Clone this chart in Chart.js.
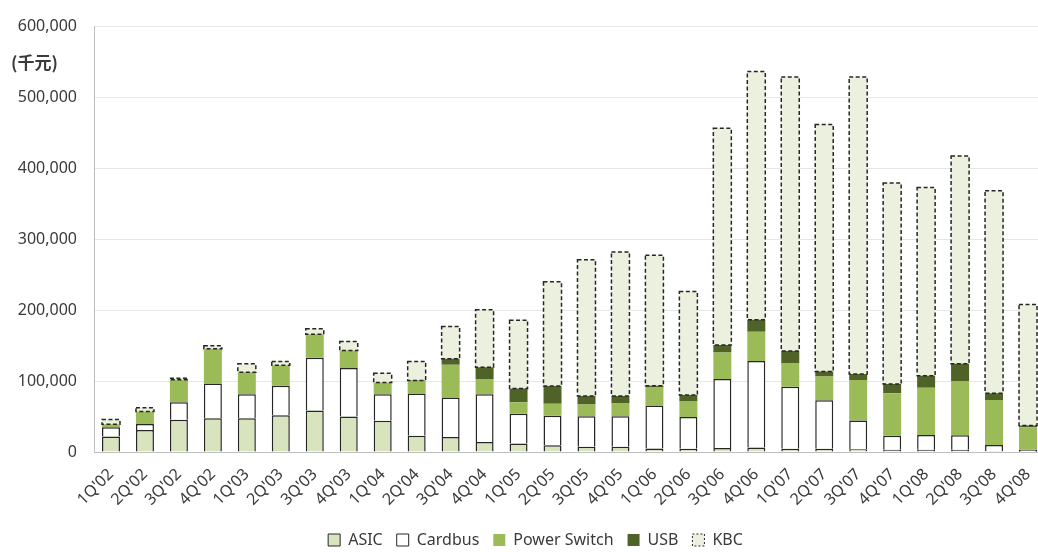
<!DOCTYPE html>
<html>
<head>
<meta charset="utf-8">
<script src="https://cdn.jsdelivr.net/npm/chart.js@4/dist/chart.umd.min.js"></script>
<style>
  html, body { margin: 0; padding: 0; background: #ffffff; overflow: hidden; }
  /* the plot runs slightly past the right edge of the visible frame */
  #wrap { width: 1038px; height: 552px; overflow: hidden; }
</style>
</head>
<body>
<div id="wrap"><canvas id="c" width="1045" height="552"></canvas></div>
<script>
// Quarterly revenue by product line (千元)
const quarters = ["1Q'02","2Q'02","3Q'02","4Q'02","1Q'03","2Q'03","3Q'03","4Q'03",
                  "1Q'04","2Q'04","3Q'04","4Q'04","1Q'05","2Q'05","3Q'05","4Q'05",
                  "1Q'06","2Q'06","3Q'06","4Q'06","1Q'07","2Q'07","3Q'07","4Q'07",
                  "1Q'08","2Q'08","3Q'08","4Q'08"];
const asic        = [22000,31000,45500,47500,47500,52000,58500,50000,44000,23000,21000,14000,12000,9500,7500,7500,5000,4500,5500,6500,4500,4500,4000,3000,3000,3000,1000,500];
const cardbus     = [13000,8500,24500,49000,34000,41500,74500,68500,37500,59500,56000,67500,42000,41500,43000,43000,60500,45000,97500,122000,87500,68500,40500,20000,21000,20500,9000,2500];
const powerSwitch = [4000,17500,32000,49000,31000,29000,33000,24500,16500,17500,46000,21500,16000,17000,16500,18000,25500,22500,37500,41000,33000,33500,57000,60000,66500,76000,63500,32000];
const usb         = [0,0,0,0,0,0,0,0,0,1000,8500,16500,19500,25000,12000,10500,2500,8500,10500,17000,17500,7000,8500,13000,17000,25000,9500,2500];
const kbc         = [7000,5500,2000,4500,12000,5000,8000,13000,13000,26500,45500,81000,96500,147000,192000,203000,184000,146000,305500,350000,386500,348500,419000,283500,265500,293000,285500,170500];
const yTicks      = [0,100000,200000,300000,400000,500000,600000];
const unitLabel   = "(千元)";

const EDGE = '#262626';
const FONT = "'Noto Sans', 'Noto Sans CJK SC', sans-serif";
const TEXT = '#3a3a3a';

// Dashed outline for the KBC segments (bar elements only support solid borders)
const dashedOutline = {
  id: 'dashedOutline',
  afterDatasetsDraw(chart) {
    const ctx = chart.ctx;
    chart.data.datasets.forEach((ds, i) => {
      if (!ds.dashed) return;
      const meta = chart.getDatasetMeta(i);
      ctx.save();
      ctx.strokeStyle = EDGE;
      ctx.lineWidth = 1.5;
      ctx.setLineDash([4, 2.5]);
      meta.data.forEach(bar => {
        const p = bar.getProps(['x', 'y', 'base', 'width'], true);
        const top = Math.min(p.y, p.base), h = Math.abs(p.base - p.y);
        ctx.strokeRect(p.x - p.width / 2, top, p.width, h);
      });
      ctx.restore();
    });
  }
};

// Unit caption next to the value axis
const unitCaption = {
  id: 'unitCaption',
  afterDraw(chart) {
    const ctx = chart.ctx, y = chart.scales.y;
    ctx.save();
    ctx.fillStyle = TEXT;
    ctx.font = "bold 17px 'Noto Sans CJK SC', sans-serif";
    ctx.textAlign = 'left';
    ctx.textBaseline = 'middle';
    ctx.fillText(unitLabel, 11, y.getPixelForValue(550000));
    ctx.restore();
  }
};

// Nudge the legend row a little to the right of the layout centre
const legendShift = {
  id: 'legendShift',
  afterLayout(chart) {
    if (chart.legend) { chart.legend.left += 13; chart.legend.right += 13; }
  }
};

const legendStyle = {
  'ASIC':         { fill: '#d7e4bd', stroke: EDGE, w: 1, dash: [] },
  'Cardbus':      { fill: '#ffffff', stroke: EDGE, w: 1, dash: [] },
  'Power Switch': { fill: '#9bbb59', stroke: '#9bbb59', w: 0, dash: [] },
  'USB':          { fill: '#4f6228', stroke: '#4f6228', w: 0, dash: [] },
  'KBC':          { fill: '#ebf1de', stroke: EDGE, w: 1, dash: [2, 2] }
};

const solidEdge = { top: 1.5, left: 1.5, right: 1.5, bottom: 0 };

new Chart(document.getElementById('c'), {
  type: 'bar',
  data: {
    labels: quarters,
    datasets: [
      { label: 'ASIC', data: asic, backgroundColor: '#d7e4bd', borderColor: EDGE, borderWidth: solidEdge, borderSkipped: false },
      { label: 'Cardbus', data: cardbus, backgroundColor: '#ffffff', borderColor: EDGE, borderWidth: solidEdge, borderSkipped: false },
      { label: 'Power Switch', data: powerSwitch, backgroundColor: '#9bbb59', borderWidth: 0 },
      { label: 'USB', data: usb, backgroundColor: '#4f6228', borderWidth: 0 },
      { label: 'KBC', data: kbc, backgroundColor: '#ebf1de', borderWidth: 0, dashed: true }
    ]
  },
  options: {
    responsive: false,
    animation: false,
    layout: { padding: { top: 10, right: 0, left: 0, bottom: -6 } },
    datasets: { bar: { barPercentage: 0.53, categoryPercentage: 1.0 } },
    scales: {
      x: {
        stacked: true,
        afterFit(s) { s.height = 66; s.paddingRight = 0; s.paddingLeft = 0; },
        grid: { display: false, drawTicks: false },
        border: { display: true, color: '#bfbfbf', width: 1 },
        ticks: { color: TEXT, font: { family: FONT, size: 16 }, minRotation: 45, maxRotation: 45, padding: 13, autoSkip: false }
      },
      y: {
        stacked: true,
        min: 0, max: 600000,
        afterBuildTicks(s) { s.ticks = yTicks.map(v => ({ value: v })); },
        afterFit(s) { s.width = 94; },
        grid: { color: '#e6e6e6', drawTicks: false },
        border: { display: true, color: '#bfbfbf', width: 1 },
        ticks: {
          color: TEXT, font: { family: FONT, size: 16 }, padding: 17,
          callback: v => v.toLocaleString('en-US')
        }
      }
    },
    plugins: {
      tooltip: { enabled: false },
      legend: {
        position: 'bottom',
        labels: {
          color: TEXT,
          font: { family: FONT, size: 16 },
          boxWidth: 12, boxHeight: 12, padding: 14,
          generateLabels(chart) {
            return chart.data.datasets.map((ds, i) => {
              const s = legendStyle[ds.label];
              return { text: ds.label, fillStyle: s.fill, strokeStyle: s.stroke, lineWidth: s.w, lineDash: s.dash, datasetIndex: i, hidden: false, fontColor: TEXT };
            });
          }
        }
      }
    }
  },
  plugins: [dashedOutline, unitCaption, legendShift]
});
</script>
</body>
</html>
